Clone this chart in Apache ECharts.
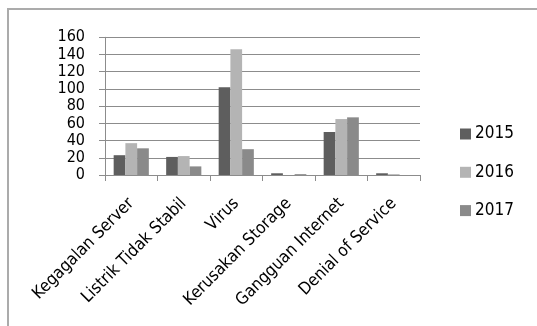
<!DOCTYPE html>
<html>
<head>
<meta charset="utf-8">
<script src="https://cdn.jsdelivr.net/npm/echarts@6/dist/echarts.min.js"></script>
<style>
html,body{margin:0;padding:0;background:#fff;}
#chart{width:537px;height:326px;}
</style>
</head>
<body>
<div id="chart"></div>
<script>
const categories = ['Kegagalan Server', 'Listrik Tidak Stabil', 'Virus', 'Kerusakan Storage', 'Gangguan Internet', 'Denial of Service'];
const years = ['2015', '2016', '2017'];
const values2015 = [23, 21, 102, 2, 50, 2];
const values2016 = [37, 22, 146, 0, 65, 1];
const values2017 = [31, 10, 30, 1, 67, 0];
const yTicks = { min: 0, max: 160, interval: 20 };

const FONT = "'DejaVu Sans Condensed', 'DejaVu Sans', sans-serif";
const colors = ['#5e5e5e', '#b4b4b4', '#8a8a8a'];
const seriesData = [values2015, values2016, values2017];

const chart = echarts.init(document.getElementById('chart'));
chart.setOption({
  animation: false,
  backgroundColor: '#fff',
  color: colors,
  grid: { left: 105, right: 117, top: 37.3, bottom: 151, containLabel: false },
  legend: {
    orient: 'vertical',
    left: 455,
    top: 119,
    itemWidth: 11,
    itemHeight: 11,
    itemGap: 18.3,
    icon: 'rect',
    textStyle: { fontFamily: FONT, fontSize: 17, color: '#000', lineHeight: 20, padding: [0, 0, 0, -1] },
    data: years
  },
  graphic: [{
    type: 'rect',
    shape: { x: 8, y: 9, width: 700, height: 500 },
    style: { fill: 'none', stroke: '#ababab', lineWidth: 2 },
    silent: true
  }],
  xAxis: {
    type: 'category',
    data: categories,
    axisLine: { lineStyle: { color: '#8c8c8c', width: 1 } },
    axisTick: { show: true, length: 6, lineStyle: { color: '#8c8c8c' } },
    axisLabel: { rotate: 45, fontFamily: FONT, fontSize: 17, color: '#000', margin: 26, interval: 0 }
  },
  yAxis: {
    type: 'value',
    min: yTicks.min,
    max: yTicks.max,
    interval: yTicks.interval,
    axisLine: { show: true, lineStyle: { color: '#8c8c8c' } },
    axisTick: { show: true, length: 6, lineStyle: { color: '#8c8c8c' } },
    splitLine: { lineStyle: { color: '#8c8c8c' } },
    axisLabel: { fontFamily: FONT, fontSize: 16, color: '#000', margin: 20 }
  },
  series: years.map((y, i) => ({
    name: y,
    type: 'bar',
    data: seriesData[i],
    barGap: '0%',
    barCategoryGap: '33%'
  }))
});
</script>
</body>
</html>
